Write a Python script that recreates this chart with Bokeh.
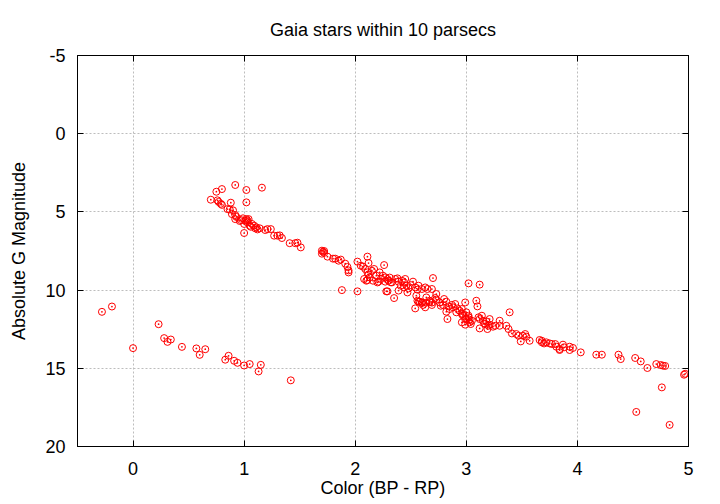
from bokeh.plotting import figure
from bokeh.models import Range1d, LinearAxis, FixedTicker, ColumnDataSource
from bokeh.embed import file_html
from bokeh.resources import INLINE

# White dwarfs
wd_color = [-0.28, -0.19, 0.00, 0.23, 0.28, 0.31, 0.34, 0.44, 0.57, 0.60,
            0.65, 0.83, 0.86, 0.91, 0.94, 1.00, 1.05, 1.13, 1.15, 1.42]
wd_mag = [11.39, 11.05, 13.71, 12.18, 13.07, 13.31, 13.16, 13.63, 13.73, 14.14,
          13.78, 14.45, 14.20, 14.52, 14.65, 14.82, 14.73, 15.20, 14.78, 15.77]

# F / G stars
fg_color = [0.70, 0.75, 0.80, 0.92, 1.02, 1.16, 0.76, 0.77, 0.79, 0.80, 0.88, 1.02,
            0.85, 0.87, 0.90, 0.89, 0.92, 0.92, 0.93, 0.96, 0.97, 0.99, 1.01, 1.02,
            1.03, 1.04, 1.00, 1.03, 1.05, 1.06, 1.07, 1.09, 1.10, 1.11, 1.12, 1.14,
            1.19, 1.21, 1.24, 1.00, 1.27, 1.30, 1.32, 1.34, 1.41, 1.46, 1.48, 1.51]
fg_mag = [4.22, 3.71, 3.54, 3.28, 3.60, 3.45, 4.26, 4.36, 4.48, 4.55, 4.41, 4.39,
          4.82, 4.84, 4.90, 5.14, 5.20, 5.46, 5.32, 5.58, 5.52, 5.41, 5.56, 5.46,
          5.55, 5.46, 5.77, 5.67, 5.88, 5.95, 5.77, 5.88, 6.05, 5.99, 6.12, 6.05,
          6.16, 6.10, 6.10, 6.35, 6.52, 6.52, 6.50, 6.67, 7.00, 7.00, 6.97, 7.27]

# K stars
k_color = [1.70, 1.71, 1.72, 1.70, 1.72, 1.75, 1.80, 1.82, 1.85, 1.87, 1.91, 1.93,
           1.94, 1.94, 1.88, 2.02]
k_mag = [7.48, 7.55, 7.62, 7.67, 7.50, 7.86, 7.99, 7.99, 8.12, 8.05, 8.31, 8.52,
         8.74, 8.87, 10.00, 10.08]

# Early M dwarfs
m1_color = [2.02, 2.05, 2.11, 2.12, 2.07, 2.09, 2.11, 2.12, 2.15, 2.08, 2.11, 2.17,
            2.10, 2.13, 2.16, 2.19, 2.20, 2.22, 2.23, 2.25, 2.21, 2.26, 2.27, 2.29,
            2.30, 2.27, 2.31, 2.32, 2.33, 2.36, 2.38, 2.39, 2.42, 2.44, 2.45, 2.41,
            2.44, 2.46, 2.48, 2.50, 2.52, 2.54, 2.56, 2.57, 2.60, 2.63, 2.65, 2.69,
            2.70, 2.28, 2.29, 2.35, 2.39, 2.47, 2.55, 2.57, 2.60, 2.64, 2.67, 2.69]
m1_mag = [8.18, 8.44, 7.86, 8.27, 8.50, 8.65, 8.87, 9.00, 8.76, 9.29, 9.36, 8.65,
          9.40, 9.19, 9.40, 9.08, 9.51, 8.87, 9.29, 9.08, 9.46, 8.40, 9.19, 9.29,
          9.40, 9.46, 9.20, 9.50, 9.51, 9.29, 9.25, 9.46, 9.40, 9.51, 9.29, 9.72,
          9.83, 9.72, 9.89, 9.68, 9.46, 9.83, 9.97, 9.72, 9.93, 9.83, 9.93, 9.93,
          9.23, 10.08, 10.08, 10.51, 10.03, 10.15, 10.36, 10.74, 10.78, 10.80, 10.76, 10.80]

# Mid M dwarfs
m2_color = [3.02, 3.12, 2.54, 2.56, 2.58, 2.60, 2.61, 2.63, 2.64, 2.67, 2.69, 2.72,
            2.73, 2.73, 2.76, 2.77, 2.79, 2.80, 2.82, 2.84, 2.85, 2.87, 2.88, 2.90,
            2.91, 2.92, 2.94, 2.96, 2.97, 2.99, 3.00, 3.02, 3.03, 3.04, 2.96, 2.99,
            3.09, 3.10, 3.12, 3.15, 3.17, 3.12, 3.19, 3.21, 2.82, 2.83, 2.96, 2.97,
            3.00, 3.02, 3.03, 3.05, 2.99, 3.11, 3.14, 3.16, 3.18, 3.20, 3.21, 3.24,
            3.26, 3.30, 3.30, 3.36, 3.38, 3.39, 3.41, 3.45, 3.47, 3.49, 3.51, 3.53,
            3.54, 3.57]
m2_mag = [9.57, 9.65, 11.17, 10.68, 10.74, 10.83, 10.95, 11.10, 10.47, 10.68, 10.95, 10.51,
          10.61, 10.25, 10.79, 11.00, 10.95, 10.57, 10.74, 11.04, 11.21, 10.95, 11.10, 10.89,
          11.42, 11.17, 11.32, 11.53, 11.64, 11.85, 11.42, 11.64, 11.89, 12.17, 12.06, 10.79,
          10.68, 11.04, 11.85, 11.96, 12.17, 12.45, 12.49, 11.85, 11.38, 11.85, 11.21, 11.53,
          11.85, 11.74, 12.06, 11.96, 12.21, 11.74, 11.64, 12.13, 12.00, 12.28, 12.21, 12.34,
          12.28, 11.96, 12.28, 12.28, 12.49, 11.42, 12.77, 12.81, 12.92, 13.28, 12.92, 12.81,
          12.98, 13.24]

# Late M dwarfs and brown dwarfs
m3_color = [3.66, 3.68, 3.68, 3.70, 3.72, 3.75, 3.77, 3.80, 3.81, 3.84, 3.84, 3.87,
            3.88, 3.93, 3.93, 3.96, 4.03, 4.17, 4.22, 4.37, 4.39, 4.52, 4.57, 4.63,
            4.71, 4.75, 4.77, 4.79, 4.96, 4.97, 4.53, 4.76, 4.83]
m3_mag = [13.19, 13.24, 13.34, 13.41, 13.34, 13.41, 13.45, 13.45, 13.62, 13.77, 13.83, 13.49,
          13.66, 13.62, 13.83, 13.70, 13.98, 14.13, 14.13, 14.13, 14.41, 14.34, 14.56, 14.98,
          14.73, 14.79, 14.83, 14.85, 15.41, 15.35, 17.79, 16.22, 18.62]

x_ticks = [0, 1, 2, 3, 4, 5]
y_ticks = [-5, 0, 5, 10, 15, 20]
y_tick_labels = ["-5", "0", "5", "10", "15", "20"]

bp_rp = wd_color + fg_color + k_color + m1_color + m2_color + m3_color
abs_g = wd_mag + fg_mag + k_mag + m1_mag + m2_mag + m3_mag
src = ColumnDataSource(dict(x=bp_rp, y=abs_g))

FONT = "Liberation Sans"

p = figure(width=720, height=504, output_backend="svg", toolbar_location=None,
           x_range=Range1d(-0.5, 5), y_range=Range1d(20, -5),
           min_border_left=77, min_border_right=32, min_border_top=55,
           min_border_bottom=58, background_fill_color="white",
           border_fill_color="white")

p.title.text = "Gaia stars within 10 parsecs"
p.title.align = "center"
p.title.text_font = FONT
p.title.text_font_size = "18px"
p.title.text_font_style = "normal"
p.title.text_color = "black"
p.title.standoff = 31

p.scatter("x", "y", source=src, marker="circle_dot", size=7,
          fill_color=None, line_color="#ff0000", line_width=1)

p.outline_line_color = "black"
p.outline_line_width = 1

for ax in (p.xaxis[0], p.yaxis[0]):
    ax.major_tick_in = 6
    ax.major_tick_out = 0
    ax.minor_tick_line_color = None
    ax.axis_line_color = "black"
    ax.major_tick_line_color = "black"
    ax.major_label_text_font = FONT
    ax.major_label_text_font_size = "18px"
    ax.major_label_text_color = "black"
    ax.axis_label_text_font = FONT
    ax.axis_label_text_font_size = "18px"
    ax.axis_label_text_font_style = "normal"
    ax.axis_label_text_color = "black"

p.xaxis[0].ticker = FixedTicker(ticks=x_ticks)
p.yaxis[0].ticker = FixedTicker(ticks=y_ticks)
p.yaxis[0].major_label_overrides = dict(zip(y_ticks, y_tick_labels))
p.xaxis[0].axis_label = "Color (BP - RP)"
p.yaxis[0].axis_label = "Absolute G Magnitude"
p.xaxis[0].major_label_standoff = 15
p.yaxis[0].major_label_standoff = 12
p.xaxis[0].axis_label_standoff = 0
p.yaxis[0].axis_label_standoff = 13

for loc, tk in (("right", y_ticks), ("above", x_ticks)):
    a = LinearAxis(ticker=FixedTicker(ticks=tk), major_tick_in=6, major_tick_out=0,
                   minor_tick_line_color=None, major_label_text_font_size="1px",
                   major_label_text_color=None, axis_line_color="black",
                   major_label_standoff=0)
    p.add_layout(a, loc)

p.xgrid.ticker = FixedTicker(ticks=x_ticks)
p.ygrid.ticker = FixedTicker(ticks=y_ticks)
for g in (p.xgrid[0], p.ygrid[0]):
    g.grid_line_color = "#bdbdbd"
    g.grid_line_dash = "2 2"
    g.grid_line_width = 1

open("out.html", "w").write(file_html(p, INLINE))
